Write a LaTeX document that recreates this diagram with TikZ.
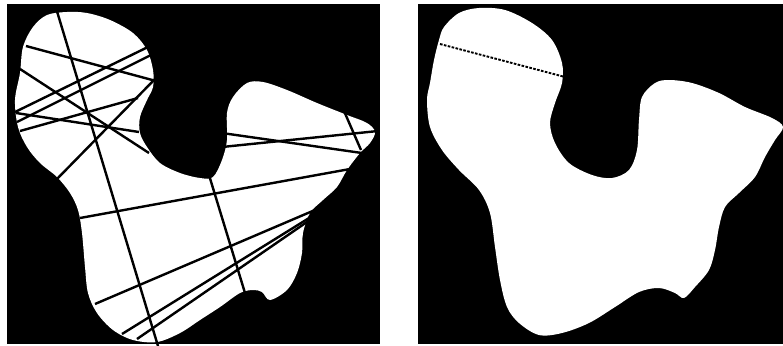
\documentclass[tikz,border=0pt]{standalone}
\usepackage{tikz}

\begin{document}
\begin{tikzpicture}[x=0.035cm, y=-0.035cm,
  panel/.style={fill=black},
  blob/.style={fill=white, smooth cycle, tension=0.55},
  chord/.style={black, line width=2.4pt},
  probe/.style={black, line width=1.9pt, dash pattern=on 2.6pt off 1.4pt}]
  \useasboundingbox (0,0) rectangle (783,345);

  % left panel
  \fill[panel] (7,4) rectangle (380,344);
  \fill[blob] plot coordinates {
    (33,27) (47,15) (67,12) (87,13) (110,20) (133,33) (147,50) (153,70)
    (153,87) (147,100) (140,117) (140,133) (147,147) (160,163) (180,173)
    (200,178) (213,177) (222,160) (227,140) (227,113) (233,97) (247,83)
    (263,82) (287,90) (317,103) (347,115) (367,123) (375,132) (370,143)
    (360,153) (347,170) (337,187) (323,200) (310,213) (303,233) (302,253)
    (297,273) (287,290) (270,300) (262,292) (253,290) (240,293) (220,307)
    (200,320) (180,333) (157,342) (133,340) (113,330) (97,313) (88,293)
    (85,267) (82,233) (78,210) (70,193) (57,177) (40,163) (27,147)
    (18,127) (15,100) (20,73) (23,47)};

  % random chords
  \draw[chord] (56,8) -- (158,346);
  \draw[chord] (26,46) -- (156,81);
  \draw[chord] (150,46) -- (15,112);
  \draw[chord] (151,55) -- (17,122);
  \draw[chord] (20,69) -- (149,153);
  \draw[chord] (155,79) -- (56,180);
  \draw[chord] (20,131) -- (138,98);
  \draw[chord] (16,113) -- (139,132);
  \draw[chord] (222,133) -- (362,153);
  \draw[chord] (222,147) -- (378,131);
  \draw[chord] (344,111) -- (361,150);
  \draw[chord] (80,218) -- (350,169);
  \draw[chord] (209,175) -- (245,293);
  \draw[chord] (95,304) -- (322,207);
  \draw[chord] (122,334) -- (322,210);
  \draw[chord] (137,339) -- (320,213);

  % right panel
  \fill[panel] (418,4) rectangle (783,344);
  \fill[blob] plot coordinates {
    (439,40) (444,27) (459,13) (479,8) (505,10) (532,23) (552,40) (562,63)
    (562,83) (555,103) (550,123) (555,143) (569,163) (592,175) (612,178)
    (629,170) (637,150) (639,120) (642,97) (655,83) (669,80) (692,83)
    (719,93) (745,107) (772,118) (783,127) (775,140) (765,157) (755,177)
    (739,193) (725,207) (719,227) (715,250) (709,270) (695,287) (684,298)
    (675,293) (659,288) (639,292) (615,307) (589,323) (562,333) (539,335)
    (519,323) (507,307) (500,280) (495,247) (490,213) (479,190) (459,170)
    (442,150) (430,127) (427,100) (430,83) (434,60)};

  % shortest chord
  \draw[probe] (440,44) -- (565,77);
\end{tikzpicture}
\end{document}
